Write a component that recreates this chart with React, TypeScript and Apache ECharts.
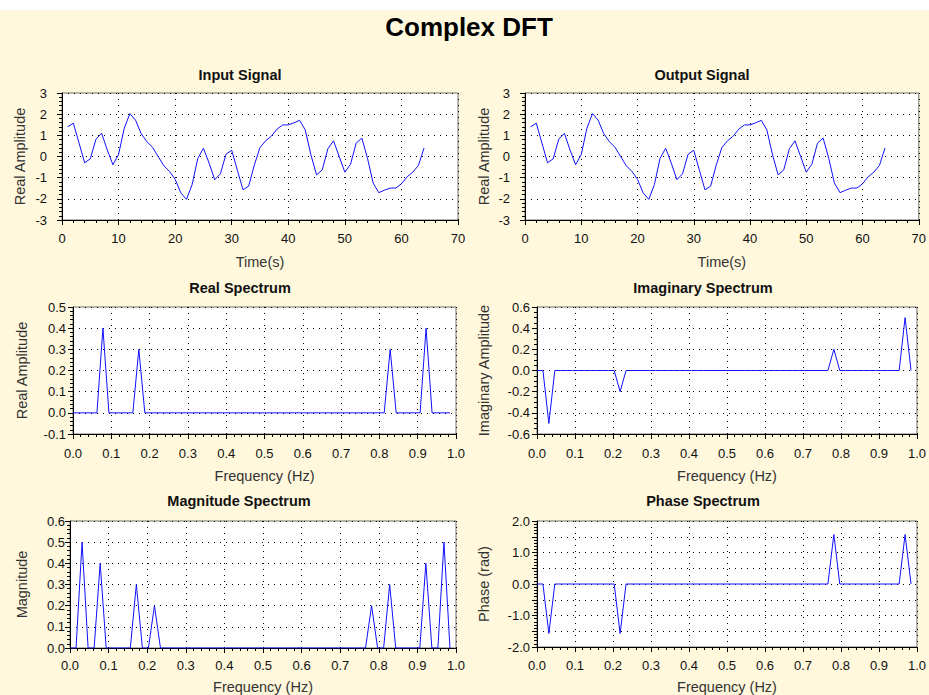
import React, { useEffect, useRef } from "react";
import * as echarts from "echarts";

// ---- Data ----
const timeSec = [
  1, 2, 3, 4, 5, 6, 7, 8, 9, 10, 11, 12, 13, 14, 15, 16,
  17, 18, 19, 20, 21, 22, 23, 24, 25, 26, 27, 28, 29, 30, 31, 32,
  33, 34, 35, 36, 37, 38, 39, 40, 41, 42, 43, 44, 45, 46, 47, 48,
  49, 50, 51, 52, 53, 54, 55, 56, 57, 58, 59, 60, 61, 62, 63, 64,
];

const inputSignal = [
  1.4, 1.576, 0.647, -0.296, -0.111, 0.816, 1.097, 0.311, -0.39, 0.096, 1.332, 2.025, 1.718, 1.078, 0.702, 0.435,
  0.0, -0.435, -0.702, -1.078, -1.718, -2.025, -1.332, -0.096, 0.39, -0.311, -1.097, -0.816, 0.111, 0.296, -0.647, -1.576,
  -1.4, -0.401, 0.425, 0.742, 0.96, 1.291, 1.49, 1.494, 1.59, 1.709, 1.254, 0.082, -0.869, -0.632, 0.369, 0.739,
  0.0, -0.739, -0.369, 0.632, 0.869, -0.082, -1.254, -1.709, -1.59, -1.494, -1.49, -1.291, -0.96, -0.742, -0.425, 0.401,
];

const outputSignal = [
  1.4, 1.576, 0.647, -0.296, -0.111, 0.816, 1.097, 0.311, -0.39, 0.096, 1.332, 2.025, 1.718, 1.078, 0.702, 0.435,
  0.0, -0.435, -0.702, -1.078, -1.718, -2.025, -1.332, -0.096, 0.39, -0.311, -1.097, -0.816, 0.111, 0.296, -0.647, -1.576,
  -1.4, -0.401, 0.425, 0.742, 0.96, 1.291, 1.49, 1.494, 1.59, 1.709, 1.254, 0.082, -0.869, -0.632, 0.369, 0.739,
  0.0, -0.739, -0.369, 0.632, 0.869, -0.082, -1.254, -1.709, -1.59, -1.494, -1.49, -1.291, -0.96, -0.742, -0.425, 0.401,
];

const realSpectrum = [
  0, 0, 0, 0, 0, 0.4, 0, 0, 0, 0, 0, 0.3, 0, 0, 0, 0,
  0, 0, 0, 0, 0, 0, 0, 0, 0, 0, 0, 0, 0, 0, 0, 0,
  0, 0, 0, 0, 0, 0, 0, 0, 0, 0, 0, 0, 0, 0, 0, 0,
  0, 0, 0, 0, 0, 0.3, 0, 0, 0, 0, 0, 0.4, 0, 0, 0, 0,
];

const imaginarySpectrum = [
  0, 0, -0.5, 0, 0, 0, 0, 0, 0, 0, 0, 0, 0, 0, -0.2, 0,
  0, 0, 0, 0, 0, 0, 0, 0, 0, 0, 0, 0, 0, 0, 0, 0,
  0, 0, 0, 0, 0, 0, 0, 0, 0, 0, 0, 0, 0, 0, 0, 0,
  0, 0, 0.2, 0, 0, 0, 0, 0, 0, 0, 0, 0, 0, 0, 0.5, 0,
];

const magnitudeSpectrum = [
  0, 0, 0.5, 0, 0, 0.4, 0, 0, 0, 0, 0, 0.3, 0, 0, 0.2, 0,
  0, 0, 0, 0, 0, 0, 0, 0, 0, 0, 0, 0, 0, 0, 0, 0,
  0, 0, 0, 0, 0, 0, 0, 0, 0, 0, 0, 0, 0, 0, 0, 0,
  0, 0, 0.2, 0, 0, 0.3, 0, 0, 0, 0, 0, 0.4, 0, 0, 0.5, 0,
];

const phaseSpectrum = [
  0, 0, -1.571, 0, 0, 0, 0, 0, 0, 0, 0, 0, 0, 0, -1.571, 0,
  0, 0, 0, 0, 0, 0, 0, 0, 0, 0, 0, 0, 0, 0, 0, 0,
  0, 0, 0, 0, 0, 0, 0, 0, 0, 0, 0, 0, 0, 0, 0, 0,
  0, 0, 1.571, 0, 0, 0, 0, 0, 0, 0, 0, 0, 0, 0, 1.571, 0,
];

const SAMPLE_COUNT = 64;
const freqHz = realSpectrum.map((_, k) => k / SAMPLE_COUNT);

// ---- Layout ----
type Panel = {
  title: string;
  titleX: number;
  titleY: number;
  grid: { left: number; top: number; width: number; height: number };
  x: [number, number, number]; // min,max,interval
  xDec: number;
  xName: string;
  xNameGap: number;
  xLabelMargin: number;
  y: [number, number, number];
  yDec: number;
  yMinor: number;
  yOnlyInt?: boolean;
  yName: string;
  yNameGap: number;
  yLabelMargin: number;
  xs: number[];
  ys: number[];
};

const panels: Panel[] = [
  {
    title: "Input Signal", titleX: 240, titleY: 75,
    grid: { left: 62, top: 93, width: 396, height: 127 },
    x: [0, 70, 10], xDec: 0, xName: "Time(s)", xNameGap: 34, xLabelMargin: 12,
    y: [-3, 3, 1], yDec: 0, yMinor: 5, yName: "Real Amplitude", yNameGap: 35, yLabelMargin: 15,
    xs: timeSec, ys: inputSignal,
  },
  {
    title: "Output Signal", titleX: 702, titleY: 75,
    grid: { left: 525, top: 93, width: 395, height: 127 },
    x: [0, 70, 10], xDec: 0, xName: "Time(s)", xNameGap: 34, xLabelMargin: 12,
    y: [-3, 3, 1], yDec: 0, yMinor: 5, yName: "Real Amplitude", yNameGap: 34, yLabelMargin: 15,
    xs: timeSec, ys: outputSignal,
  },
  {
    title: "Real Spectrum", titleX: 240, titleY: 288,
    grid: { left: 73, top: 307, width: 383, height: 127 },
    x: [0, 1, 0.1], xDec: 1, xName: "Frequency (Hz)", xNameGap: 34, xLabelMargin: 13,
    y: [-0.1, 0.5, 0.1], yDec: 1, yMinor: 5, yName: "Real Amplitude", yNameGap: 44, yLabelMargin: 7,
    xs: freqHz, ys: realSpectrum,
  },
  {
    title: "Imaginary Spectrum", titleX: 703, titleY: 288,
    grid: { left: 537, top: 307, width: 383, height: 127 },
    x: [0, 1, 0.1], xDec: 1, xName: "Frequency (Hz)", xNameGap: 34, xLabelMargin: 13,
    y: [-0.6, 0.6, 0.2], yDec: 1, yMinor: 4, yName: "Imaginary Amplitude", yNameGap: 46, yLabelMargin: 7,
    xs: freqHz, ys: imaginarySpectrum,
  },
  {
    title: "Magnitude Spectrum", titleX: 239, titleY: 501,
    grid: { left: 70, top: 521, width: 386, height: 127 },
    x: [0, 1, 0.1], xDec: 1, xName: "Frequency (Hz)", xNameGap: 31, xLabelMargin: 11,
    y: [0, 0.6, 0.1], yDec: 1, yMinor: 5, yName: "Magnitude", yNameGap: 41, yLabelMargin: 5,
    xs: freqHz, ys: magnitudeSpectrum,
  },
  {
    title: "Phase Spectrum", titleX: 703, titleY: 501,
    grid: { left: 537, top: 521, width: 383, height: 126 },
    x: [0, 1, 0.1], xDec: 1, xName: "Frequency (Hz)", xNameGap: 32, xLabelMargin: 12,
    y: [-2, 2, 0.5], yDec: 1, yMinor: 5, yOnlyInt: true, yName: "Phase (rad)", yNameGap: 46, yLabelMargin: 7,
    xs: freqHz, ys: phaseSpectrum,
  },
];

const FONT = "'Liberation Sans', Arial, sans-serif";
const BG = "#fff8dc";

function fmt(dec: number, onlyInt?: boolean) {
  return (v: number) => {
    if (onlyInt && Math.abs(v - Math.round(v)) > 1e-6) return "";
    const r = Math.abs(v) < 1e-9 ? 0 : v;
    return r.toFixed(dec);
  };
}

export default function App() {
  const ref = useRef<HTMLDivElement>(null);

  useEffect(() => {
    if (!ref.current) return;
    const chart = echarts.init(ref.current, undefined, { renderer: "svg" });

    const splitLine = {
      show: true,
      lineStyle: { color: "#000", width: 1, type: [1, 5] as any },
    };

    const grids = panels.map((p) => ({
      left: p.grid.left,
      top: p.grid.top,
      width: p.grid.width,
      height: p.grid.height,
      show: true,
      backgroundColor: "#ffffff",
      borderColor: "#6e6e6e",
      borderWidth: 1,
      containLabel: false,
    }));

    const xAxes = panels.map((p, i) => ({
      type: "value",
      gridIndex: i,
      min: p.x[0],
      max: p.x[1],
      interval: p.x[2],
      name: p.xName,
      nameLocation: "middle",
      nameGap: p.xNameGap,
      nameTextStyle: { fontFamily: FONT, fontSize: 14.5, color: "#333" },
      axisLine: { show: true, onZero: false, lineStyle: { color: "#000", width: 1 } },
      axisTick: { show: true, inside: false, length: 5, lineStyle: { color: "#000" } },
      minorTick: { show: true, splitNumber: 5, length: 3, lineStyle: { color: "#000" } },
      axisLabel: {
        fontFamily: FONT,
        fontSize: 13,
        color: "#111",
        margin: p.xLabelMargin,
        showMinLabel: true,
        showMaxLabel: true,
        formatter: fmt(p.xDec),
      },
      splitLine,
    }));

    const yAxes = panels.map((p, i) => ({
      type: "value",
      gridIndex: i,
      min: p.y[0],
      max: p.y[1],
      interval: p.y[2],
      name: p.yName,
      nameLocation: "middle",
      nameGap: p.yNameGap,
      nameTextStyle: { fontFamily: FONT, fontSize: 14.5, color: "#333" },
      axisLine: { show: true, onZero: false, lineStyle: { color: "#000", width: 1 } },
      axisTick: { show: true, inside: false, length: 5, lineStyle: { color: "#000" } },
      minorTick: { show: true, splitNumber: p.yMinor, length: 3, lineStyle: { color: "#000" } },
      axisLabel: {
        fontFamily: FONT,
        fontSize: 13,
        color: "#111",
        margin: p.yLabelMargin,
        showMinLabel: true,
        showMaxLabel: true,
        formatter: fmt(p.yDec, p.yOnlyInt),
      },
      splitLine,
    }));

    const series = panels.map((p, i) => ({
      type: "line",
      xAxisIndex: i,
      yAxisIndex: i,
      showSymbol: false,
      symbol: "none",
      data: p.ys.map((y, k) => [p.xs[k], y]),
      lineStyle: { color: "#1010ff", width: 1 },
      itemStyle: { color: "#1010ff" },
      silent: true,
    }));

    const graphic: any[] = [
      { type: "rect", shape: { x: 0, y: 0, width: 929, height: 10 }, style: { fill: "#ffffff" }, silent: true },
      {
        type: "text",
        x: 469,
        y: 27,
        style: {
          text: "Complex DFT",
          fontFamily: FONT,
          fontSize: 26,
          fontWeight: "bold",
          fill: "#000",
          align: "center",
          verticalAlign: "middle",
        },
      },
      ...panels.map((p) => ({
        type: "text",
        x: p.titleX,
        y: p.titleY,
        style: {
          text: p.title,
          fontFamily: FONT,
          fontSize: 14.5,
          fontWeight: "bold",
          fill: "#111",
          align: "center",
          verticalAlign: "middle",
        },
      })),
    ];

    chart.setOption({
      animation: false,
      backgroundColor: BG,
      grid: grids,
      xAxis: xAxes,
      yAxis: yAxes,
      series,
      graphic,
    } as any);

    return () => {
      chart.dispose();
    };
  }, []);

  return (
    <div
      ref={ref}
      style={{ position: "absolute", left: 0, top: 0, width: 929, height: 695 }}
    />
  );
}
